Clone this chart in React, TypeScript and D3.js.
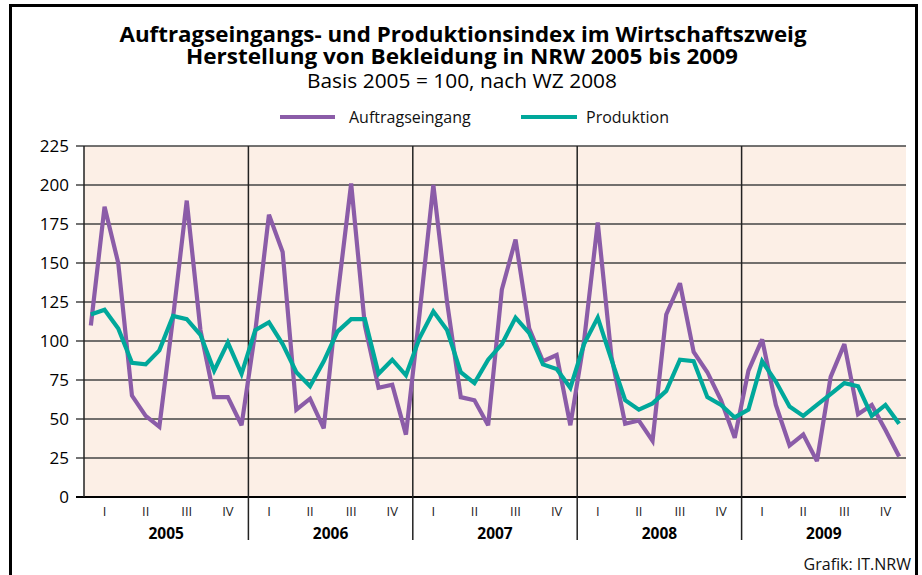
import React from "react";
import * as d3 from "d3";

const years = ["2005", "2006", "2007", "2008", "2009"];
const quarters = ["I", "II", "III", "IV"];
const yTicks = [0, 25, 50, 75, 100, 125, 150, 175, 200, 225];

const auftragseingang = [
  110, 186, 150, 65, 52, 45, 115, 190, 107, 64, 64, 46,
  106, 181, 157, 56, 63, 44, 128, 201, 110, 70, 72, 40,
  118, 200, 125, 64, 62, 46, 133, 165, 108, 87, 91, 46,
  100, 176, 90, 47, 49, 36, 117, 137, 93, 80, 62, 38,
  81, 101, 59, 33, 40, 23, 77, 98, 53, 59, 43, 26,
];

const produktion = [
  117, 120, 108, 86, 85, 94, 116, 114, 104, 81, 99, 79,
  107, 112, 98, 80, 71, 87, 106, 114, 114, 79, 88, 78,
  102, 119, 107, 80, 73, 88, 98, 115, 105, 85, 82, 70,
  98, 115, 88, 62, 56, 60, 68, 88, 87, 64, 59, 51,
  56, 87, 74, 58, 52, 59, 66, 73, 71, 52, 59, 47,
];

const PURPLE = "#8b5ca8";
const TEAL = "#00a89b";
const FONT = "'Open Sans', 'Noto Sans', sans-serif";

export default function App() {
  const W = 922, H = 575;
  const left = 84, right = 906, top = 146, bottom = 497;
  const n = auftragseingang.length;
  const x = d3.scaleLinear().domain([0, n]).range([left, right]);
  const y = d3.scaleLinear().domain([0, 225]).range([bottom, top]);
  const line = d3.line<number>().x((_, i) => x(i + 0.5)).y((d) => y(d));

  return (
    <svg width={W} height={H} style={{ position: "absolute", left: 0, top: 0, background: "#fff" }} fontFamily={FONT}>
      <rect x={0} y={0} width={W} height={H} fill="#fff" />
      {/* frame */}
      <path d={`M10.5,${H + 5} V5.5 H916.5 V${H + 5}`} fill="none" stroke="#000" strokeWidth={3} />
      {/* titles */}
      <text textAnchor="middle" fontSize={20.5} fontWeight="bold" fill="#000">
        <tspan x={463} y={42} textLength={687} lengthAdjust="spacingAndGlyphs">
          Auftragseingangs- und Produktionsindex im Wirtschaftszweig
        </tspan>
        <tspan x={462} y={64} textLength={552} lengthAdjust="spacingAndGlyphs">
          Herstellung von Bekleidung in NRW 2005 bis 2009
        </tspan>
      </text>
      <text x={462} y={87.5} textAnchor="middle" fontSize={20} fill="#000" textLength={310} lengthAdjust="spacingAndGlyphs">
        Basis 2005 = 100, nach WZ 2008
      </text>
      {/* legend */}
      <line x1={280} x2={335} y1={117} y2={117} stroke={PURPLE} strokeWidth={4} />
      <text x={349} y={122.5} fontSize={16} fill="#111">Auftragseingang</text>
      <line x1={521} x2={577} y1={117} y2={117} stroke={TEAL} strokeWidth={4} />
      <text x={586} y={122.5} fontSize={16} fill="#111">Produktion</text>

      {/* plot background */}
      <rect x={left} y={top} width={right - left} height={bottom - top} fill="#fcefe6" />
      {/* gridlines */}
      {yTicks.map((t) => (
        <g key={t}>
          <line x1={left - 8} x2={right} y1={y(t)} y2={y(t)} stroke={t === 0 ? "#000" : "#444"} strokeWidth={t === 0 ? 2 : 1.6} />
          <text x={69} y={y(t)} dy="0.36em" textAnchor="end" fontSize={17} fill="#000">{t}</text>
        </g>
      ))}
      {/* left axis line */}
      <line x1={left} x2={left} y1={top} y2={bottom} stroke="#222" strokeWidth={1.5} />
      {/* year separators */}
      {years.slice(1).map((yr, i) => (
        <line key={yr} x1={x((i + 1) * 12)} x2={x((i + 1) * 12)} y1={top} y2={540} stroke="#222" strokeWidth={1.5} />
      ))}
      {/* series */}
      <path d={line(auftragseingang) || ""} fill="none" stroke={PURPLE} strokeWidth={4.2} strokeLinejoin="miter" strokeMiterlimit={3} />
      <path d={line(produktion) || ""} fill="none" stroke={TEAL} strokeWidth={4.2} strokeLinejoin="miter" strokeMiterlimit={3} />
      {/* x labels */}
      {years.map((yr, yi) => (
        <g key={yr}>
          {quarters.map((q, qi) => (
            <text key={q} x={x(yi * 12 + qi * 3 + 1.5)} y={515.5} textAnchor="middle" fontSize={13} fill="#222">{q}</text>
          ))}
          <text x={x(yi * 12 + 6)} y={539} textAnchor="middle" fontSize={15.5} fontWeight="bold" fill="#000">{yr}</text>
        </g>
      ))}
      <text x={911} y={570} textAnchor="end" fontSize={16} fill="#111">Grafik: IT.NRW</text>
    </svg>
  );
}
